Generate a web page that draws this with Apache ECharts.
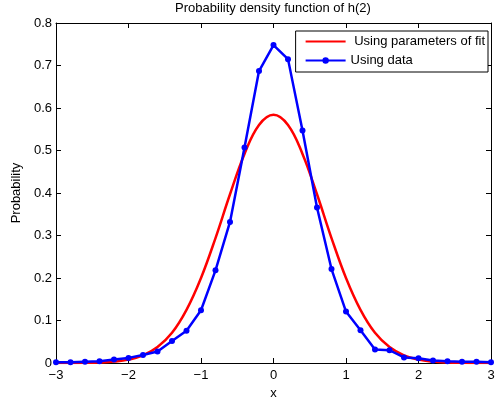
<!DOCTYPE html>
<html>
<head>
<meta charset="utf-8">
<script src="https://cdn.jsdelivr.net/npm/echarts@6/dist/echarts.min.js"></script>
<style>
  html, body { margin: 0; padding: 0; background: #fff; }
  #chart { width: 499px; height: 407px; }
</style>
</head>
<body>
<div id="chart"></div>
<script>
// x positions of the samples (both curves share them)
const xs = [-3, -2.8, -2.6, -2.4, -2.2, -2, -1.8, -1.6, -1.4, -1.2, -1, -0.8, -0.6, -0.4, -0.2, 0,
  0.2, 0.4, 0.6, 0.8, 1, 1.2, 1.4, 1.6, 1.8, 2, 2.2, 2.4, 2.6, 2.8, 3];
// red curve
const fitValues = [0, 0.0001, 0.0004, 0.0012, 0.0033, 0.008, 0.018, 0.0375, 0.071, 0.125, 0.2, 0.294,
  0.397, 0.492, 0.56, 0.584, 0.56, 0.492, 0.397, 0.294, 0.2, 0.125, 0.071, 0.0375, 0.018, 0.008,
  0.0033, 0.0012, 0.0004, 0.0001, 0];
// blue points
const dataValues = [0.002, 0.002, 0.003, 0.004, 0.008, 0.012, 0.019, 0.027, 0.052, 0.076, 0.124,
  0.218, 0.332, 0.507, 0.687, 0.748, 0.715, 0.547, 0.366, 0.221, 0.121, 0.077, 0.032, 0.030, 0.013,
  0.011, 0.006, 0.004, 0.003, 0.003, 0.002];

const chart = echarts.init(document.getElementById('chart'));
const font = 'Liberation Sans, Arial, sans-serif';
const minus = (v) => String(v).replace('-', '\u2212');
const txt = { fontFamily: font, fontSize: 13, color: '#000' };

const axisLine = { show: true, onZero: false, lineStyle: { color: '#000', width: 1 } };
const tick = { show: true, inside: true, length: 5, lineStyle: { color: '#000' } };

chart.setOption({
  animation: false,
  title: {
    text: 'Probability density function of h(2)',
    left: 273, top: 2, padding: 0, textAlign: 'center',
    textStyle: Object.assign({ fontWeight: 'normal' }, txt)
  },
  grid: { left: 56, right: 8, top: 23, bottom: 44 },
  legend: {
    right: 11, top: 31, orient: 'vertical', align: 'left',
    backgroundColor: '#fff', borderColor: '#000', borderWidth: 1, borderRadius: 0,
    padding: [4, 3, 5, 9], itemGap: 6, itemWidth: 40, itemHeight: 8,
    textStyle: txt,
    data: [
      { name: ' Using parameters of fit', itemStyle: { opacity: 0 } },
      { name: 'Using data' }
    ]
  },
  xAxis: [{
    type: 'value', min: -3, max: 3, interval: 1,
    name: 'x', nameLocation: 'middle', nameGap: 22, nameTextStyle: txt,
    axisLine, axisTick: tick, splitLine: { show: false },
    axisLabel: Object.assign({ margin: 6, formatter: minus }, txt)
  }, {
    type: 'value', min: -3, max: 3, interval: 1, position: 'top',
    axisLine, axisTick: tick, axisLabel: { show: false }, splitLine: { show: false }
  }],
  yAxis: [{
    type: 'value', min: 0, max: 0.8, interval: 0.1,
    name: 'Probability', nameLocation: 'middle', nameGap: 28, nameTextStyle: txt,
    axisLine, axisTick: tick, splitLine: { show: false },
    axisLabel: Object.assign({ margin: 4, formatter: (v) => (v === 0 ? '0' : v.toFixed(1)) }, txt)
  }, {
    type: 'value', min: 0, max: 0.8, interval: 0.1, position: 'right',
    axisLine, axisTick: tick, axisLabel: { show: false }, splitLine: { show: false }
  }],
  series: [{
    name: ' Using parameters of fit', type: 'line', smooth: 0.4, symbol: 'none',
    data: xs.map((x, i) => [x, fitValues[i]]),
    lineStyle: { color: '#ff0000', width: 2.5 }, itemStyle: { color: '#ff0000' }, z: 2
  }, {
    name: 'Using data', type: 'line', symbol: 'circle', symbolSize: 6,
    data: xs.map((x, i) => [x, dataValues[i]]),
    lineStyle: { color: '#0000ff', width: 2.5 }, itemStyle: { color: '#0000ff' }, z: 3
  }]
});
</script>
</body>
</html>
